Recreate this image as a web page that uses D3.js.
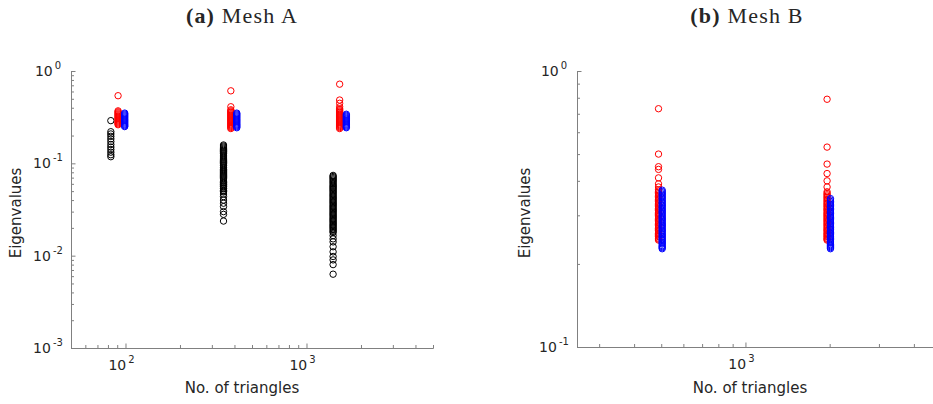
<!DOCTYPE html>
<html>
<head>
<meta charset="utf-8">
<script src="https://cdn.jsdelivr.net/npm/d3@7"></script>
<style>
body { margin: 0; background: #fff; }
svg text { font-family: "DejaVu Sans", sans-serif; fill: #262626; }
.title { font-family: "Liberation Serif", serif; }
</style>
</head>
<body>
<svg id="chart" width="933" height="404"></svg>
<script>
// Mesh A: triangle counts used for each series
var meshA_blackX = [83, 348, 1403];
var meshA_redX = [91, 382, 1525];
var meshA_blueX = [99, 412, 1660];

// Mesh A eigenvalues, one list per triangle count
var meshA_black = [
  [0.29, 0.22, 0.208, 0.196, 0.184, 0.172, 0.16, 0.15, 0.141, 0.132, 0.124, 0.118],
  [0.158, 0.154, 0.150, 0.146, 0.142, 0.138, 0.134, 0.130, 0.127, 0.123, 0.120, 0.117, 0.114, 0.111,
   0.108, 0.105, 0.102, 0.099, 0.096, 0.094, 0.091, 0.089, 0.086, 0.084, 0.082, 0.080, 0.078, 0.076,
   0.074, 0.072, 0.070, 0.068, 0.066, 0.064, 0.062, 0.061, 0.059, 0.057, 0.056, 0.054, 0.053, 0.051,
   0.050, 0.049, 0.0465, 0.0436, 0.040, 0.037, 0.034, 0.030, 0.028, 0.0237],
  [0.074, 0.072, 0.070, 0.068, 0.066, 0.064, 0.062, 0.060, 0.058, 0.0565, 0.055, 0.0535, 0.052, 0.0505,
   0.049, 0.0475, 0.046, 0.0447, 0.0434, 0.0421, 0.0409, 0.0397, 0.0385, 0.0374, 0.0363, 0.0352, 0.0342,
   0.0332, 0.0322, 0.0313, 0.0304, 0.0295, 0.0286, 0.0278, 0.027, 0.0262, 0.0254, 0.0247, 0.024, 0.0233,
   0.0226, 0.0219, 0.0213, 0.0207, 0.0201, 0.0195, 0.0189, 0.0183, 0.0178, 0.0165, 0.0152, 0.0141,
   0.0125, 0.011, 0.0098, 0.009, 0.008, 0.0063]
];
var meshA_red = [
  [0.54, 0.37, 0.361, 0.352, 0.343, 0.335, 0.327, 0.319, 0.311, 0.303, 0.296, 0.289, 0.282, 0.275, 0.268, 0.262],
  [0.61, 0.41, 0.38, 0.37, 0.361, 0.352, 0.343, 0.335, 0.327, 0.319, 0.311, 0.303, 0.296, 0.289, 0.282,
   0.275, 0.268, 0.262, 0.256, 0.25, 0.244, 0.238],
  [0.72, 0.485, 0.447, 0.41, 0.39, 0.38, 0.37, 0.361, 0.352, 0.343, 0.335, 0.327, 0.319, 0.311, 0.303,
   0.296, 0.289, 0.282, 0.275, 0.268, 0.262, 0.256, 0.25, 0.244, 0.238]
];
var meshA_blue = [
  [0.35, 0.342, 0.334, 0.326, 0.318, 0.31, 0.302, 0.295, 0.288, 0.281, 0.274, 0.267, 0.261, 0.255, 0.25],
  [0.35, 0.342, 0.334, 0.326, 0.318, 0.31, 0.302, 0.295, 0.288, 0.281, 0.274, 0.267, 0.261, 0.255, 0.249, 0.243],
  [0.34, 0.332, 0.324, 0.316, 0.308, 0.301, 0.294, 0.287, 0.28, 0.273, 0.266, 0.26, 0.254, 0.248, 0.243]
];

// Mesh B
var meshB_redX = [489, 1958];
var meshB_blueX = [504, 2013];
var meshB_red = [
  [0.73, 0.50, 0.45, 0.44, 0.41, 0.39, 0.38, 0.371, 0.367, 0.363, 0.359, 0.355, 0.351, 0.347, 0.343, 0.34,
   0.336, 0.332, 0.329, 0.325, 0.322, 0.318, 0.315, 0.312, 0.308, 0.305, 0.302, 0.299, 0.296, 0.293, 0.29,
   0.287, 0.284, 0.281, 0.278, 0.275, 0.272, 0.269, 0.266, 0.264, 0.261, 0.258, 0.256, 0.253, 0.251, 0.248,
   0.246, 0.244],
  [0.79, 0.53, 0.46, 0.425, 0.40, 0.38, 0.365, 0.36, 0.356, 0.352, 0.348, 0.344, 0.34, 0.336, 0.332, 0.329,
   0.325, 0.322, 0.318, 0.315, 0.312, 0.308, 0.305, 0.302, 0.299, 0.296, 0.293, 0.29, 0.287, 0.284, 0.281,
   0.278, 0.275, 0.272, 0.269, 0.266, 0.264, 0.261, 0.258, 0.256, 0.253, 0.251, 0.248, 0.246, 0.244]
];
var meshB_blue = [
  [0.37, 0.366, 0.362, 0.358, 0.354, 0.35, 0.346, 0.342, 0.338, 0.334, 0.331, 0.327, 0.324, 0.32, 0.317,
   0.313, 0.31, 0.307, 0.304, 0.3, 0.297, 0.294, 0.291, 0.288, 0.285, 0.282, 0.279, 0.276, 0.274, 0.271,
   0.268, 0.265, 0.263, 0.26, 0.257, 0.255, 0.252, 0.25, 0.247, 0.245, 0.243, 0.24, 0.238, 0.236, 0.233,
   0.231, 0.229, 0.227],
  [0.345, 0.341, 0.337, 0.333, 0.329, 0.325, 0.322, 0.318, 0.315, 0.311, 0.308, 0.305, 0.301, 0.298, 0.295,
   0.292, 0.289, 0.286, 0.283, 0.28, 0.277, 0.274, 0.271, 0.268, 0.266, 0.263, 0.26, 0.258, 0.255, 0.252,
   0.25, 0.247, 0.245, 0.242, 0.24, 0.238, 0.235, 0.233, 0.231, 0.229, 0.227]
];

// tick labels (powers of ten)
var meshA_xLabels = [2, 3];
var meshA_yLabels = [0, -1, -2, -3];
var meshB_xLabels = [3];
var meshB_yLabels = [0, -1];

var svg = d3.select('#chart');
var axisColor = '#808080';

function toPoints(xs, ys) {
  var pts = [];
  xs.forEach(function(xv, i) {
    ys[i].forEach(function(yv) { pts.push([xv, yv]); });
  });
  return pts;
}

function powLabel(sel, exp) {
  sel.append('tspan').text('10');
  sel.append('tspan').attr('dx', 2).attr('dy', -7).attr('font-size', 10).text(exp);
}

function drawPanel(cfg) {
  var x = d3.scaleLog().domain(cfg.xDomain).range([cfg.left, cfg.right]);
  var y = d3.scaleLog().domain(cfg.yDomain).range([cfg.bottom, cfg.top]);
  var g = svg.append('g');

  // x axis, ticks pointing inward
  var gx = g.append('g').attr('transform', 'translate(0,' + cfg.bottom + ')')
    .call(d3.axisBottom(x).tickValues(x.ticks()).tickSizeOuter(0).tickSize(-3).tickFormat(''));
  gx.selectAll('line').attr('y2', function(d) { return Math.abs(Math.log10(d) % 1) < 1e-9 ? -4.5 : -3; });

  var gy = g.append('g').attr('transform', 'translate(' + cfg.left + ',0)')
    .call(d3.axisLeft(y).tickValues(y.ticks()).tickSizeOuter(0).tickSize(-3).tickFormat(''));
  gy.selectAll('line').attr('x2', function(d) { return Math.abs(Math.log10(d) % 1) < 1e-9 ? 4.5 : 3; });

  g.selectAll('.domain, .tick line').attr('stroke', axisColor).attr('stroke-width', 1);

  // tick labels
  cfg.xLabels.forEach(function(e) {
    g.append('text').attr('x', x(Math.pow(10, e)) - 4).attr('y', cfg.bottom + 22)
      .attr('text-anchor', 'middle').attr('font-size', 14).call(powLabel, e);
  });
  cfg.yLabels.forEach(function(e) {
    g.append('text').attr('x', cfg.left - 23).attr('y', y(Math.pow(10, e)) + 5)
      .attr('text-anchor', 'middle').attr('font-size', 14).call(powLabel, e);
  });

  // axis titles
  g.append('text').attr('x', cfg.xLabelX).attr('y', 393).attr('text-anchor', 'middle')
    .attr('font-size', 15).text('No. of triangles');
  g.append('text').attr('transform', 'translate(' + cfg.yLabelX + ',' + 213 + ') rotate(-90)')
    .attr('text-anchor', 'middle').attr('font-size', 15).text('Eigenvalues');

  // subfigure caption
  var t = g.append('text').attr('class', 'title').attr('x', cfg.titleX).attr('y', 23)
    .attr('text-anchor', 'middle').attr('font-size', 22).style('letter-spacing', '1.2px');
  t.append('tspan').attr('font-weight', 'bold').text(cfg.tag);
  t.append('tspan').text(' ' + cfg.title);

  // markers: black, then red, then blue on top
  cfg.series.forEach(function(s) {
    g.append('g').selectAll('circle')
      .data(toPoints(s.xs, s.ys))
      .enter()
      .append('circle')
      .attr('cx', function(d) { return x(d[0]); })
      .attr('cy', function(d) { return y(d[1]); })
      .attr('r', 3.2)
      .attr('fill', 'none')
      .attr('stroke', s.color)
      .attr('stroke-width', 1);
  });
}

drawPanel({
  left: 71, right: 433, top: 71, bottom: 348,
  xDomain: [50, 5000], yDomain: [0.001, 1],
  xLabels: meshA_xLabels, yLabels: meshA_yLabels,
  xLabelX: 242, yLabelX: 21, titleX: 242,
  tag: '(a)', title: 'Mesh A',
  series: [
    { xs: meshA_blackX, ys: meshA_black, color: '#000000' },
    { xs: meshA_redX, ys: meshA_red, color: '#ff0000' },
    { xs: meshA_blueX, ys: meshA_blue, color: '#0000ff' }
  ]
});

drawPanel({
  left: 577, right: 941, top: 71, bottom: 347,
  xDomain: [250, 5000], yDomain: [0.1, 1],
  xLabels: meshB_xLabels, yLabels: meshB_yLabels,
  xLabelX: 750, yLabelX: 530, titleX: 747,
  tag: '(b)', title: 'Mesh B',
  series: [
    { xs: meshB_redX, ys: meshB_red, color: '#ff0000' },
    { xs: meshB_blueX, ys: meshB_blue, color: '#0000ff' }
  ]
});
</script>
</body>
</html>
